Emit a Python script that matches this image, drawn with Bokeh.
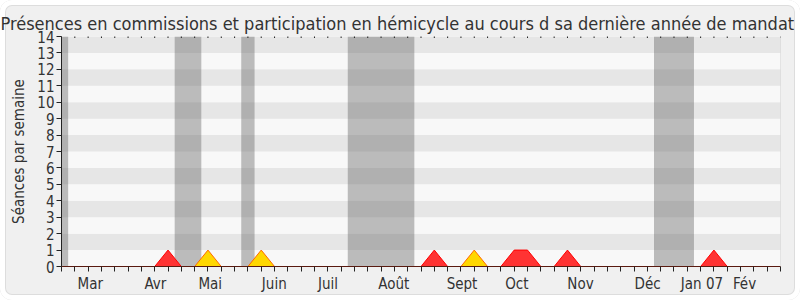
from bokeh.plotting import figure
from bokeh.models import FixedTicker, Range1d, Span
from bokeh.embed import file_html
from bokeh.resources import INLINE

# ---- data ----
weeks = list(range(55))
commission = [0, 0, 0, 0, 0, 0, 0, 0, 1, 0,
              0, 0, 0, 0, 0, 0, 0, 0, 0, 0,
              0, 0, 0, 0, 0, 0, 0, 0, 1, 0,
              0, 0, 0, 0, 1, 1, 0, 0, 1, 0,
              0, 0, 0, 0, 0, 0, 0, 0, 0, 1,
              0, 0, 0, 0, 0]
hemicycle = [0, 0, 0, 0, 0, 0, 0, 0, 0, 0,
             0, 1, 0, 0, 0, 1, 0, 0, 0, 0,
             0, 0, 0, 0, 0, 0, 0, 0, 0, 0,
             0, 1, 0, 0, 0, 0, 0, 0, 0, 0,
             0, 0, 0, 0, 0, 0, 0, 0, 0, 0,
             0, 0, 0, 0, 0]
month_pos = [2.16, 7.05, 11.17, 15.98, 20.02, 24.96, 30.08, 34.2, 38.98, 44.02, 48.1, 51.3]
month_labels = ["Mar", "Avr", "Mai", "Juin", "Juil", "Août", "Sept", "Oct", "Nov", "Déc", "Jan 07", "Fév"]
vac_start = [-0.5, 8.5, 13.5, 21.5, 44.5]
vac_end = [0.5, 10.5, 14.5, 26.5, 47.5]
y_ticks = list(range(15))

FONT = "DejaVu Sans Condensed"
TXT = "#333333"

p = figure(width=800, height=300, x_range=Range1d(weeks[0], weeks[-1]), y_range=Range1d(y_ticks[0], y_ticks[-1]),
           output_backend="svg", toolbar_location=None,
           min_border_left=61, min_border_right=20, min_border_top=36, min_border_bottom=34,
           styles={"background-color": "#f0f0f0", "border-radius": "12px",
                   "box-shadow": "inset 0 0 0 5px #ffffff, inset 0 0 0 6px #dddddd"})
p.border_fill_alpha = 0
p.background_fill_color = "#f8f8f8"
p.outline_line_color = None
p.xgrid.visible = False
p.ygrid.visible = False

# title
p.title.text = "Présences en commissions et participation en hémicycle au cours d sa dernière année de mandat"
p.title.text_font = FONT
p.title.text_font_size = "18px"
p.title.text_font_style = "normal"
p.title.text_color = TXT
p.title.align = "left"
p.title.offset = -61
p.title.standoff = 6

# horizontal bands
band_colors = ["#f8f8f8" if v % 2 == 0 else "#e6e6e6" for v in y_ticks[:-1]]
p.quad(left=-1, right=55, bottom=y_ticks[:-1], top=y_ticks[1:], fill_color=band_colors, line_color=None)

# vacation bands
p.quad(left=vac_start, right=vac_end, bottom=0, top=14, fill_color="#5b5b5b", fill_alpha=0.39, line_color=None)

# areas
p.varea(x=weeks, y1=0, y2=commission, fill_color="#ff3333")
p.line(x=weeks, y=commission, line_color="#ff0000", line_width=1)
p.varea(x=weeks, y1=0, y2=hemicycle, fill_color="#ffd700")
p.line(x=weeks, y=hemicycle, line_color="#ff6a00", line_width=1)

# dotted top edge: one small tick per week
p.rect(x=weeks, y=y_ticks[-1], width=1, height=3, width_units="screen", height_units="screen",
       fill_color="#222222", line_color=None)

# axes
xa = p.xaxis[0]
xa.ticker = FixedTicker(ticks=month_pos, minor_ticks=weeks)
xa.major_label_overrides = {pos: lab for pos, lab in zip(month_pos, month_labels)}
xa.major_tick_in = 0
xa.major_tick_out = 0
xa.minor_tick_in = 0
xa.minor_tick_out = 5
xa.minor_tick_line_color = "#222222"
xa.axis_line_color = "#5a1a10"
xa.major_label_text_font = FONT
xa.major_label_text_font_size = "15px"
xa.major_label_text_color = TXT
xa.major_label_standoff = 3

ya = p.yaxis[0]
ya.ticker = FixedTicker(ticks=y_ticks)
ya.major_tick_in = 0
ya.major_tick_out = 5
ya.minor_tick_out = 0
ya.minor_tick_in = 0
ya.major_tick_line_color = "#222222"
ya.axis_line_color = "#222222"
ya.major_label_text_font = FONT
ya.major_label_text_font_size = "15px"
ya.major_label_text_color = TXT
ya.major_label_standoff = 2
ya.axis_label = "Séances par semaine"
ya.axis_label_text_font = FONT
ya.axis_label_text_font_size = "15px"
ya.axis_label_text_font_style = "normal"
ya.axis_label_text_color = TXT
ya.axis_label_standoff = 6

# right thin border line
p.add_layout(Span(location=weeks[-1], dimension="height", line_color="#d0d0d0", line_width=1))

open("out.html", "w").write(file_html(p, INLINE))
